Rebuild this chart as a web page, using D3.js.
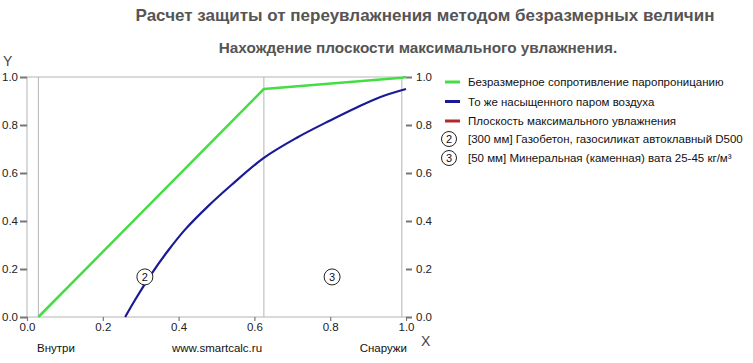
<!DOCTYPE html>
<html><head><meta charset="utf-8">
<script src="https://cdn.jsdelivr.net/npm/d3@7"></script>
<style>
body{margin:0;background:#fff;}
svg text{font-family:"Liberation Sans",Arial,sans-serif;}
</style></head>
<body><svg id="c" width="753" height="363"></svg>
<script>
const title = "Расчет защиты от переувлажнения методом безразмерных величин";
const subtitle = "Нахождение плоскости максимального увлажнения.";
const xTicks = [0, 0.2, 0.4, 0.6, 0.8, 1.0];
const yTicks = [0, 0.2, 0.4, 0.6, 0.8, 1.0];
const layerBounds = [0.03, 0.625, 0.989];
const greenX = [0.03, 0.625, 0.989, 1.0];
const greenY = [0, 0.95, 0.997, 1.0];
const blueX = [0.259, 0.285, 0.329, 0.373, 0.417, 0.478, 0.540, 0.624, 0.712, 0.80, 0.87, 0.931, 1.0];
const blueY = [0, 0.071, 0.181, 0.278, 0.364, 0.462, 0.551, 0.662, 0.747, 0.819, 0.873, 0.916, 0.95];
const redX = [];
const redY = [];
const layerLabels = ["2", "3"];
const layerLabelX = [0.311, 0.805];
const layerLabelY = [0.167, 0.167];
const legendLines = ["Безразмерное сопротивление паропроницанию", "То же насыщенного паром воздуха", "Плоскость максимального увлажнения"];
const legendColors = ["#44dd44", "#1a1a96", "#b02a2a"];
const legendLayers = ["[300 мм] Газобетон, газосиликат автоклавный D500", "[50 мм] Минеральная (каменная) вата 25-45 кг/м³"];
const bottomLabels = ["Внутри", "www.smartcalc.ru", "Снаружи"];

const svg = d3.select("#c");
const x = d3.scaleLinear().domain([0, 1]).range([27, 406]);
const y = d3.scaleLinear().domain([0, 1]).range([317, 77]);

svg.append("text").attr("x", 425).attr("y", 21).attr("text-anchor", "middle")
  .attr("font-size", 17).attr("font-weight", "bold").attr("fill", "#555").text(title);
svg.append("text").attr("x", 418).attr("y", 53).attr("text-anchor", "middle")
  .attr("font-size", 15.3).attr("font-weight", "bold").attr("fill", "#555").text(subtitle);

// frame lines
svg.append("line").attr("x1", x(0)).attr("x2", x(1)).attr("y1", y(1)).attr("y2", y(1)).attr("stroke", "#b4b4b4");
svg.append("line").attr("x1", x(0)).attr("x2", x(0)).attr("y1", y(0)).attr("y2", y(1)).attr("stroke", "#b4b4b4");
svg.append("line").attr("x1", x(0)).attr("x2", x(1)).attr("y1", y(0)).attr("y2", y(0)).attr("stroke", "#b4b4b4");
svg.selectAll(".lb").data(layerBounds).enter().append("line")
  .attr("x1", d => x(d)).attr("x2", d => x(d)).attr("y1", y(0)).attr("y2", y(1)).attr("stroke", "#b4b4b4");

// axes
const fmt = d3.format(".1f");
const yl = svg.append("g").attr("transform", `translate(${x(0)},0)`)
  .call(d3.axisLeft(y).tickValues(yTicks).tickFormat(fmt).tickSize(7).tickPadding(2));
const yr = svg.append("g").attr("transform", `translate(${x(1)},0)`)
  .call(d3.axisRight(y).tickValues(yTicks).tickFormat(fmt).tickSize(6).tickPadding(4));
const xb = svg.append("g").attr("transform", `translate(0,${y(0)})`)
  .call(d3.axisBottom(x).tickValues(xTicks).tickFormat(fmt).tickSize(4).tickPadding(2));
[yl, yr, xb].forEach(g => {
  g.select(".domain").remove();
  g.selectAll(".tick line").attr("stroke", "#777").attr("stroke-width", 2);
  g.selectAll(".tick text").attr("font-size", 11.5).attr("fill", "#222")
    .style("font-family", "Liberation Sans, Arial, sans-serif");
});
xb.selectAll(".tick line").attr("stroke-width", 1.2);

svg.append("text").attr("x", 3).attr("y", 66).attr("font-size", 14).attr("fill", "#444").text("Y");
svg.append("text").attr("x", 421).attr("y", 346).attr("font-size", 14).attr("fill", "#444").text("X");

const line = d3.line().x(d => x(d[0])).y(d => y(d[1]));
svg.append("path").datum(d3.zip(greenX, greenY)).attr("d", line)
  .attr("fill", "none").attr("stroke", legendColors[0]).attr("stroke-width", 2.5).attr("stroke-linejoin", "round");
svg.append("path").datum(d3.zip(blueX, blueY)).attr("d", d3.line().curve(d3.curveCatmullRom).x(d => x(d[0])).y(d => y(d[1])))
  .attr("fill", "none").attr("stroke", legendColors[1]).attr("stroke-width", 2.2);
svg.append("path").datum(d3.zip(redX, redY)).attr("d", line)
  .attr("fill", "none").attr("stroke", legendColors[2]).attr("stroke-width", 2);

// layer labels
layerLabels.forEach((t, i) => {
  const g = svg.append("g").attr("transform", `translate(${x(layerLabelX[i])},${y(layerLabelY[i])})`);
  g.append("circle").attr("r", 8).attr("fill", "#fff").attr("stroke", "#222").attr("stroke-width", 1);
  g.append("text").attr("text-anchor", "middle").attr("dy", 4).attr("font-size", 11).attr("fill", "#111").text(t);
});

// legend
legendLines.forEach((t, i) => {
  const yy = 82 + i * 19.5;
  svg.append("line").attr("x1", 445).attr("x2", 460).attr("y1", yy).attr("y2", yy)
    .attr("stroke", legendColors[i]).attr("stroke-width", 3);
  svg.append("text").attr("x", 468).attr("y", yy + 4).attr("font-size", 11.5).attr("fill", "#111").text(t);
});
legendLayers.forEach((t, i) => {
  const yy = 139 + i * 19;
  svg.append("circle").attr("cx", 449).attr("cy", yy).attr("r", 7.5).attr("fill", "#fff").attr("stroke", "#222");
  svg.append("text").attr("x", 449).attr("y", yy + 4).attr("text-anchor", "middle").attr("font-size", 11).attr("fill", "#111").text(layerLabels[i]);
  svg.append("text").attr("x", 468).attr("y", yy + 4).attr("font-size", 11.5).attr("fill", "#111").text(t);
});

// bottom labels
svg.append("text").attr("x", 37).attr("y", 352).attr("font-size", 11.5).attr("fill", "#111").text(bottomLabels[0]);
svg.append("text").attr("x", 217).attr("y", 352).attr("text-anchor", "middle").attr("font-size", 11.5).attr("fill", "#111").text(bottomLabels[1]);
svg.append("text").attr("x", 407).attr("y", 352).attr("text-anchor", "end").attr("font-size", 11.5).attr("fill", "#111").text(bottomLabels[2]);
</script></body></html>
